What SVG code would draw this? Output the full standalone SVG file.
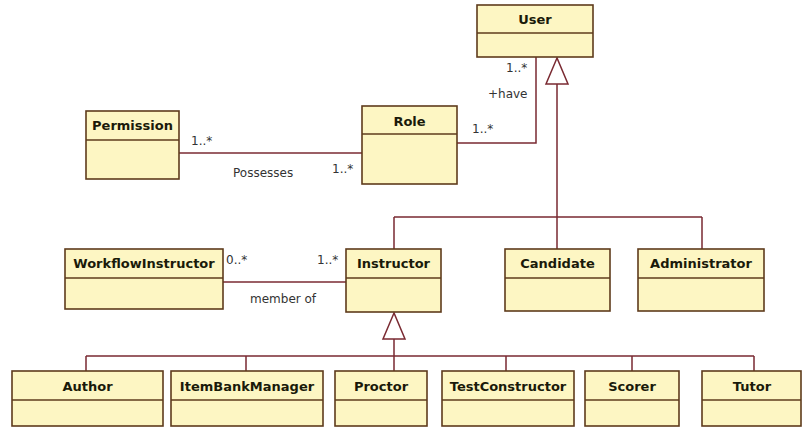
<svg xmlns="http://www.w3.org/2000/svg" width="802" height="428" viewBox="0 0 802 428">
<style>
.box{fill:#fdf6c3;stroke:#5e3b1c;stroke-width:1.6}
.div{stroke:#5e3b1c;stroke-width:1.4}
.t{font-family:"DejaVu Sans",Verdana,sans-serif;font-weight:bold;font-size:13px;fill:#1a1a0a;text-anchor:middle}
.l{font-family:"DejaVu Sans",Verdana,sans-serif;font-size:12px;fill:#333}
.c{fill:none;stroke:#7a2a32;stroke-width:1.5}
.tri{fill:#fff;stroke:#7a2a32;stroke-width:1.5}
</style>
<rect width="802" height="428" fill="#fff"/>
<g id="connectors">
<path class="c" d="M179 153H362"/>
<path class="c" d="M457 143H536V57"/>
<path class="c" d="M557 84V217M394 217H702M394 217V249M557 217V249M702 217V249"/>
<polygon class="tri" points="557,58 546,84 568,84"/>
<path class="c" d="M223 282H346"/>
<path class="c" d="M394 339V356M86 356H754M86 356V371M246 356V371M394 356V371M506 356V371M632 356V371M754 356V371"/>
<polygon class="tri" points="394,313 383,339 405,339"/>
<g class="l">
<text x="191" y="145">1..*</text>
<text x="233" y="177">Possesses</text>
<text x="332" y="173">1..*</text>
<text x="472" y="133">1..*</text>
<text x="506" y="72">1..*</text>
<text x="488" y="98">+have</text>
<text x="226" y="264">0..*</text>
<text x="317" y="264">1..*</text>
<text x="250" y="303">member of</text>
</g>
</g>
<g id="User"><rect class="box" x="477" y="5" width="116" height="52"/><path class="div" d="M477 33H593"/><text class="t" x="535" y="24">User</text></g>
<g id="Permission"><rect class="box" x="86" y="111" width="93" height="68"/><path class="div" d="M86 140H179"/><text class="t" x="132.5" y="130">Permission</text></g>
<g id="Role"><rect class="box" x="362" y="106" width="95" height="78"/><path class="div" d="M362 134H457"/><text class="t" x="409.5" y="126">Role</text></g>
<g id="WorkflowInstructor"><rect class="box" x="65" y="249" width="158" height="60"/><path class="div" d="M65 278H223"/><text class="t" x="144" y="268">WorkflowInstructor</text></g>
<g id="Instructor"><rect class="box" x="346" y="249" width="95" height="63"/><path class="div" d="M346 278H441"/><text class="t" x="393.5" y="268">Instructor</text></g>
<g id="Candidate"><rect class="box" x="505" y="249" width="105" height="62"/><path class="div" d="M505 278H610"/><text class="t" x="557.5" y="268">Candidate</text></g>
<g id="Administrator"><rect class="box" x="638" y="249" width="126" height="62"/><path class="div" d="M638 278H764"/><text class="t" x="701" y="268">Administrator</text></g>
<g id="Author"><rect class="box" x="12" y="371" width="151" height="55"/><path class="div" d="M12 400H163"/><text class="t" x="87.5" y="391">Author</text></g>
<g id="ItemBankManager"><rect class="box" x="171" y="371" width="152" height="55"/><path class="div" d="M171 400H323"/><text class="t" x="247" y="391">ItemBankManager</text></g>
<g id="Proctor"><rect class="box" x="335" y="371" width="92" height="55"/><path class="div" d="M335 400H427"/><text class="t" x="381" y="391">Proctor</text></g>
<g id="TestConstructor"><rect class="box" x="442" y="371" width="132" height="55"/><path class="div" d="M442 400H574"/><text class="t" x="508" y="391">TestConstructor</text></g>
<g id="Scorer"><rect class="box" x="585" y="371" width="94" height="55"/><path class="div" d="M585 400H679"/><text class="t" x="632" y="391">Scorer</text></g>
<g id="Tutor"><rect class="box" x="702" y="371" width="99" height="55"/><path class="div" d="M702 400H801"/><text class="t" x="752" y="391">Tutor</text></g>
</svg>
